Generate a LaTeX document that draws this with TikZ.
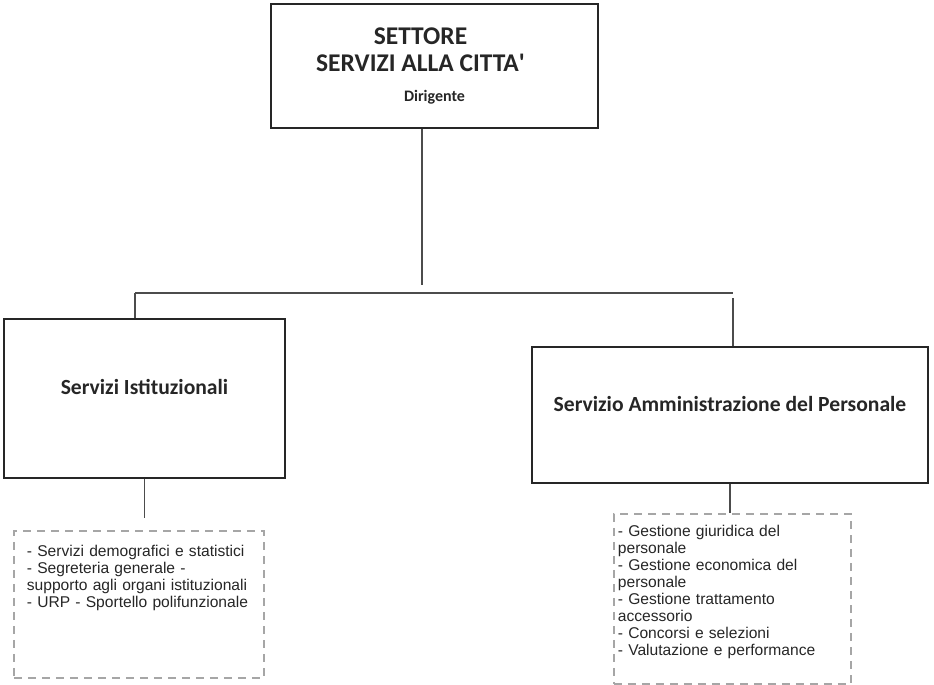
\documentclass[tikz,border=0pt]{standalone}
\usepackage{fontspec}
\setmainfont{Carlito}
\newfontfamily\listfont{Liberation Sans}
\usepackage{tikz}

\begin{document}
\begin{tikzpicture}[
    x=1pt, y=-1pt,
    box/.style={rectangle, draw=black!85, line width=1.4pt, inner sep=0pt, align=center, text=black!85},
    listbox/.style={rectangle, draw=black!35, line width=1.8pt, dash pattern=on 8pt off 6pt, anchor=north west, align=left, inner ysep=0pt, font=\listfont\fontsize{15.6}{17}\selectfont, text=black!85},
    link/.style={draw=black!70, line width=1.1pt}
]
    \useasboundingbox (0,0) rectangle (934,685);

    % Top - Settore
    \node[box, minimum width=327pt, minimum height=124pt, font=\fontsize{25.5}{27}\selectfont\bfseries] (settore) at (434.5,66) {SETTORE\kern28pt\\SERVIZI ALLA CITTA\textquotesingle\kern28pt\\[3pt]\fontsize{16}{16}\selectfont Dirigente};

    % Middle - Servizi
    \node[box, minimum width=281pt, minimum height=159pt, font=\fontsize{21.6}{24}\selectfont\bfseries, text height=15pt, text depth=23pt] (istit) at (144.5,398.5) {Servizi Istituzionali};
    \node[box, minimum width=396pt, minimum height=136pt, font=\fontsize{21.6}{24}\selectfont\bfseries, text height=15pt, text depth=23pt] (pers) at (730,415) {Servizio Amministrazione del Personale};

    % Bottom - compiti
    \node[listbox, inner xsep=13pt, text width=224pt, text height=26pt, text depth=121pt] (istlist) at (13,530) {- Servizi demografici e statistici\\- Segreteria generale -\\supporto agli organi istituzionali\\- URP - Sportello polifunzionale};
    \node[listbox, inner xsep=4pt, text width=229pt, text height=23pt, text depth=147pt] (perslist) at (613,513) {- Gestione giuridica del\\personale\\- Gestione economica del\\personale\\- Gestione trattamento\\accessorio\\- Concorsi e selezioni\\- Valutazione e performance};

    % Links
    \coordinate (hub) at (422,293);
    \coordinate (hubL) at (135,293);
    \coordinate (hubR) at (733,293);
    \draw[link, shorten >=8pt] (settore.south -| hub) -- (hub);
    \draw[link] (hubL) -- (hubR);
    \draw[link] (hubL) -- (istit.north -| hubL);
    \draw[link, shorten <=5pt] (hubR) -- (pers.north -| hubR);
    \draw[link, shorten >=12pt] (istit.south) -- (istit.south |- istlist.north);
    \draw[link] (pers.south) -- (pers.south |- perslist.north);
\end{tikzpicture}
\end{document}
